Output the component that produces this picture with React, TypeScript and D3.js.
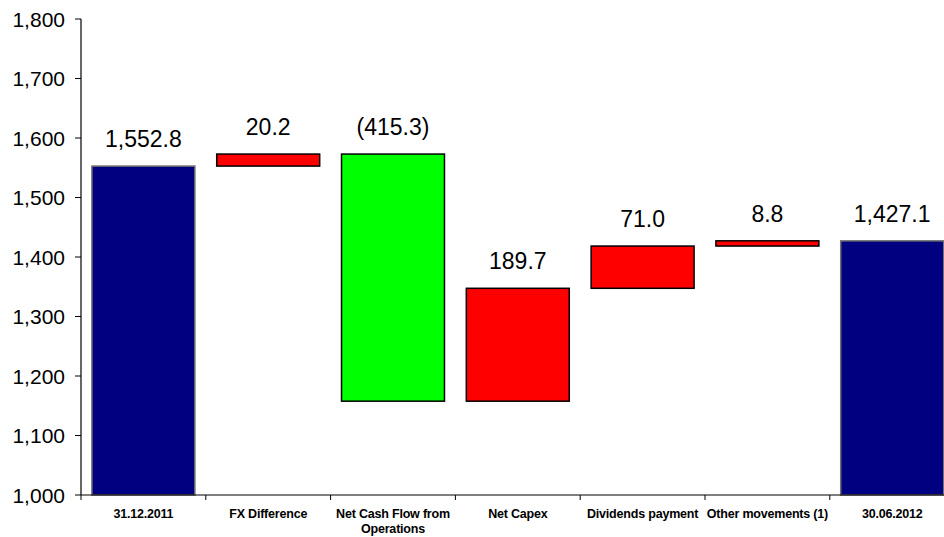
import { useEffect, useRef } from "react";
import * as d3 from "d3";

const categories = [
    [ "31.12.2011" ],
    [ "FX Difference" ],
    [ "Net Cash Flow from", "Operations" ],
    [ "Net Capex" ],
    [ "Dividends payment" ],
    [ "Other movements (1)" ],
    [ "30.06.2012" ],
];
// kind: total bars start from the axis, steps float
const kinds = [ "total", "up", "down", "up", "up", "up", "total" ];
const values = [ 1552.8, 20.2, -415.3, 189.7, 71.0, 8.8, 1427.1 ];
const labels = [ "1,552.8", "20.2", "(415.3)", "189.7", "71.0", "8.8", "1,427.1" ];
const yTicks = [ 1000, 1100, 1200, 1300, 1400, 1500, 1600, 1700, 1800 ];

const W = 944;
const H = 537;

export default function App ()
{
    const svgRef = useRef<SVGSVGElement>( null );

    useEffect( () =>
    {
        if ( !svgRef.current ) return;
        const svg = d3.select( svgRef.current );
        svg.selectAll( "*" ).remove();

        const left = 81;
        const step = 124.8;
        const x = d3.scaleBand<number>()
            .domain( d3.range( categories.length ) )
            .range( [ left, left + step * categories.length ] )
            .paddingInner( 0.175 )
            .paddingOuter( 0.0875 );
        const y = d3.scaleLinear().domain( [ 1000, 1800 ] ).range( [ 495, 19 ] );

        // running totals for the floating steps
        let run = 0;
        const bars = values.map( ( v, i ) =>
        {
            let lo: number, hi: number;
            if ( kinds[ i ] === "total" )
            {
                lo = 1000; hi = v; run = v;
            } else
            {
                const next = run + v;
                lo = Math.min( run, next ); hi = Math.max( run, next );
                run = next;
            }
            return { i, lo, hi, kind: kinds[ i ] };
        } );

        const fill = ( k: string ) => k === "total" ? "#000080" : k === "down" ? "#00ff00" : "#ff0000";

        svg.append( "g" ).selectAll( "rect" ).data( bars ).join( "rect" )
            .attr( "x", d => x( d.i )! )
            .attr( "width", x.bandwidth() )
            .attr( "y", d => y( d.hi ) )
            .attr( "height", d => y( d.lo ) - y( d.hi ) )
            .attr( "fill", d => fill( d.kind ) )
            .attr( "stroke", d => d.kind === "total" ? "#707070" : "#000" )
            .attr( "stroke-width", 1.5 );

        // value labels
        svg.append( "g" ).selectAll( "text" ).data( bars ).join( "text" )
            .attr( "x", d => x( d.i )! + x.bandwidth() / 2 )
            .attr( "y", d => y( d.hi ) - 19 )
            .attr( "text-anchor", "middle" )
            .style( "font-family", "'Liberation Sans', Arial, sans-serif" )
            .style( "font-size", "23px" )
            .attr( "fill", "#000" )
            .text( d => labels[ d.i ] );

        // y axis
        const ya = svg.append( "g" );
        ya.append( "line" ).attr( "x1", left ).attr( "x2", left ).attr( "y1", y( 1800 ) ).attr( "y2", y( 1000 ) )
            .attr( "stroke", "#000" ).attr( "stroke-width", 1.2 );
        ya.selectAll( "line.t" ).data( yTicks ).join( "line" ).attr( "class", "t" )
            .attr( "x1", left - 6 ).attr( "x2", left ).attr( "y1", d => y( d ) ).attr( "y2", d => y( d ) )
            .attr( "stroke", "#000" ).attr( "stroke-width", 1 );
        ya.selectAll( "text" ).data( yTicks ).join( "text" )
            .attr( "x", 65 ).attr( "y", d => y( d ) ).attr( "dy", "0.36em" )
            .attr( "text-anchor", "end" )
            .style( "font-family", "'Liberation Sans', Arial, sans-serif" )
            .style( "font-size", "21px" )
            .style( "font-weight", "500" )
            .text( d => d3.format( "," )( d ) );

        // x axis
        const xa = svg.append( "g" );
        xa.append( "line" ).attr( "x1", left ).attr( "x2", W ).attr( "y1", y( 1000 ) ).attr( "y2", y( 1000 ) )
            .attr( "stroke", "#000" ).attr( "stroke-width", 1.2 );
        xa.selectAll( "line.t" ).data( d3.range( categories.length ) ).join( "line" ).attr( "class", "t" )
            .attr( "x1", i => left + i * step ).attr( "x2", i => left + i * step )
            .attr( "y1", y( 1000 ) ).attr( "y2", y( 1000 ) + 5 )
            .attr( "stroke", "#000" ).attr( "stroke-width", 1 );
        const xl = xa.selectAll( "text" ).data( categories ).join( "text" )
            .attr( "text-anchor", "middle" )
            .style( "font-family", "'Liberation Sans', Arial, sans-serif" )
            .style( "font-size", "12.5px" )
            .style( "font-weight", "700" )
            .style( "letter-spacing", "-0.2px" );
        xl.each( function ( lines, i )
        {
            const t = d3.select( this );
            lines.forEach( ( s, j ) =>
            {
                t.append( "tspan" )
                    .attr( "x", x( i )! + x.bandwidth() / 2 )
                    .attr( "y", 518 + j * 15 )
                    .text( s );
            } );
        } );
    }, [] );

    return (
        <svg ref={ svgRef } width={ W } height={ H }
            style={ { position: "absolute", left: 0, top: 0, background: "#fff" } } />
    );
}
